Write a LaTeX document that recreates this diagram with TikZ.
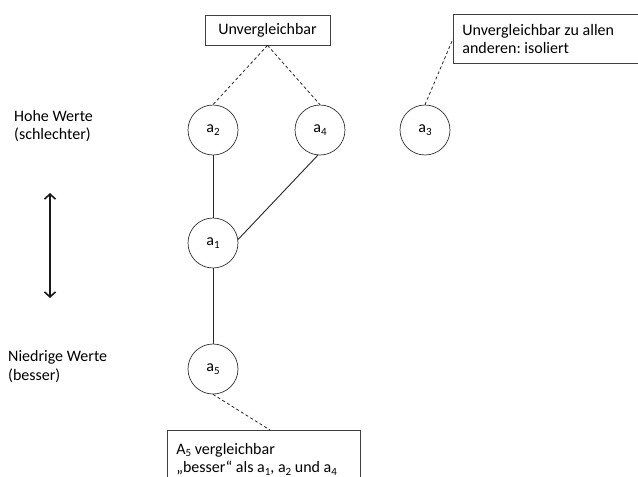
\documentclass[tikz,border=0pt]{standalone}
\usepackage{fontspec}
\setmainfont{Carlito}
\usetikzlibrary{arrows.meta}
\newcommand{\sbs}[1]{\raisebox{-0.35ex}{\fontsize{11}{11}\selectfont #1}}
\begin{document}
\begin{tikzpicture}[x=1pt,y=-1pt,
  every node/.style={font=\fontsize{16}{18.5}\selectfont\frenchspacing, text=black},
  elem/.style={circle, draw=black!80, line width=0.7pt, minimum size=50pt, inner sep=0pt, fill=white},
  box/.style={draw=black!75, line width=0.7pt, fill=white},
  link/.style={draw=black!85, line width=0.9pt},
  note/.style={draw=black!85, line width=0.8pt, dash pattern=on 3pt off 2.5pt},
  lbl/.style={align=left, anchor=west, inner sep=0pt}]
\clip (0,0) rectangle (638,477);
\fill[white] (0,0) rectangle (638,477);

% elements
\node[elem] (a2) at (213,130) {a\sbs{2}};
\node[elem] (a4) at (320,130) {a\sbs{4}};
\node[elem] (a3) at (425,130) {a\sbs{3}};
\node[elem] (a1) at (213,243) {a\sbs{1}};
\node[elem] (a5) at (213,369) {a\sbs{5}};

% boxes
\node[box, minimum width=125pt, minimum height=30pt, inner sep=0pt] (u) at (267.5,30) {Unvergleichbar};
\node[box, anchor=north west, text width=177pt, inner xsep=9pt, inner ysep=0pt, minimum height=49pt, align=flush left] (iso) at (453,14) {Unvergleichbar zu allen\\anderen: isoliert};
\node[box, anchor=north west, text width=175pt, inner xsep=9pt, inner ysep=0pt, minimum height=58pt, align=flush left] (v5) at (167,430) {A\sbs{5} vergleichbar\\„besser“ als a\sbs{1}, a\sbs{2} und a\sbs{4}};

% side labels
\node[lbl] (hoch) at (14,126) {Hohe Werte\\(schlechter)};
\node[lbl] (nied) at (8,366.5) {Niedrige Werte\\(besser)};
\coordinate (top) at (50,193);
\coordinate (bot) at (50,298);
\draw[line width=1.6pt, black!90, {Straight Barb[length=5pt,width=11pt]}-{Straight Barb[length=5pt,width=11pt]}] (top) -- (bot);

% order relations
\draw[link] (a2) -- (a1);
\draw[link] (a1.8) -- (a4.-95);
\draw[link] (a1) -- (a5);

% annotation lines
\draw[note] (u.south) -- (a2.north);
\draw[note] (u.south) -- (a4.north);
\draw[note] (a3.north) -- (iso.west);
\draw[note] (a5.south) -- ([xshift=103pt]v5.north west);
\end{tikzpicture}
\end{document}
